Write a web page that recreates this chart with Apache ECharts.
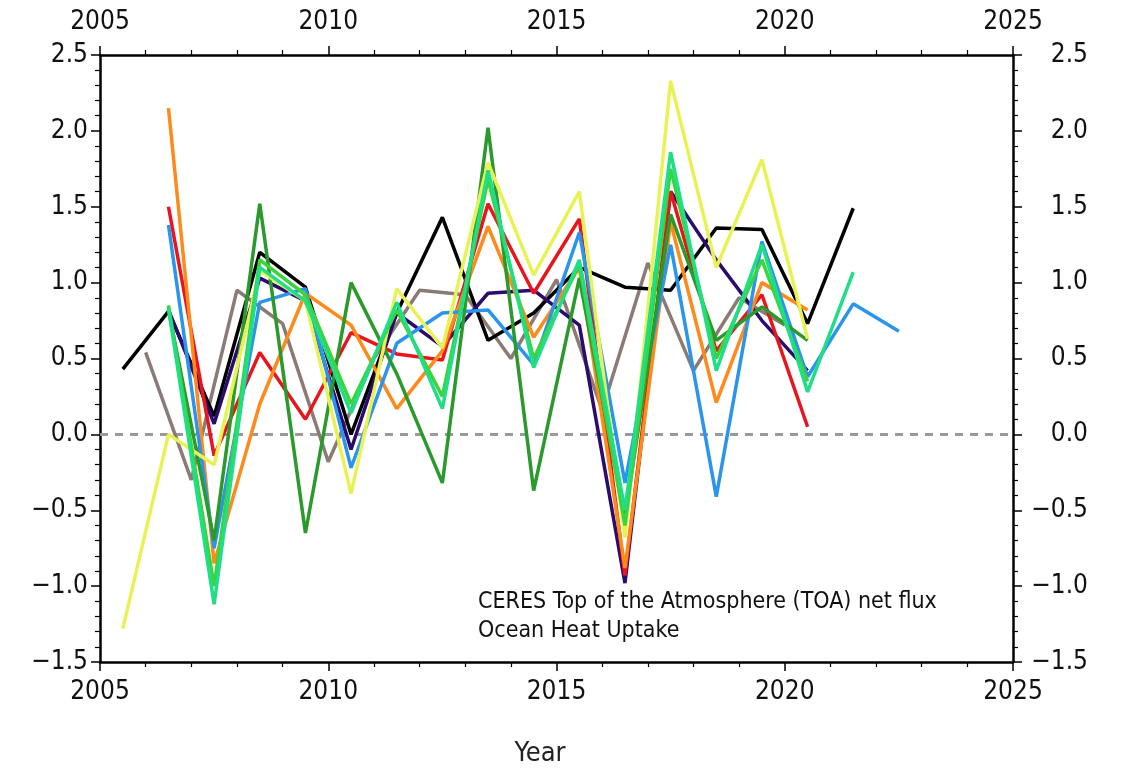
<!DOCTYPE html>
<html><head><meta charset="utf-8">
<script src="https://cdn.jsdelivr.net/npm/echarts@6/dist/echarts.min.js"></script>
<style>html,body{margin:0;padding:0;background:#fff}#c{width:1122px;height:771px}</style>
</head><body><div id="c"></div>
<script>
// Half-year positions used by most series
const years = [2005.5,2006.5,2007.5,2008.5,2009.5,2010.5,2011.5,2012.5,2013.5,2014.5,2015.5,2016.5,2017.5,2018.5,2019.5,2020.5,2021.5,2022.5];
// Integer-year positions of the brown series
const yearsBrown = [2006,2007,2008,2009,2010,2011,2012,2013,2014,2015,2016,2017,2018,2019,2020];

const ceresBlack = [0.43,0.81,0.12,1.20,0.97,0.00,0.80,1.43,0.62,0.80,1.10,0.97,0.95,1.36,1.35,0.73,1.49,null];
const redVals    = [null,1.50,-0.14,0.54,0.10,0.67,0.53,0.49,1.52,0.93,1.42,-0.93,1.60,0.55,0.92,0.05,null,null];
const orangeVals = [null,2.15,-0.85,0.20,0.93,0.72,0.17,0.55,1.37,0.64,1.10,-0.88,1.40,0.21,1.00,0.82,null,null];
const blueVals   = [null,1.38,-0.75,0.87,0.96,-0.22,0.60,0.80,0.82,0.46,1.33,-0.32,1.25,-0.41,1.27,0.38,0.86,0.68];
const dkGreenVals= [null,0.82,-0.70,1.52,-0.65,1.00,0.40,-0.32,2.02,-0.37,1.03,-0.55,1.45,0.62,0.84,0.62,null,null];
const yellowVals = [-1.28,0.00,-0.20,1.08,0.88,-0.39,0.96,0.57,1.79,1.05,1.60,-0.68,2.33,1.10,1.81,0.63,null,null];
const limeVals   = [null,0.85,-1.00,1.15,0.92,0.20,0.82,0.25,1.68,0.50,1.12,-0.60,1.75,0.50,1.15,0.35,null,null];
const springVals = [null,0.83,-1.12,1.10,0.88,0.14,0.87,0.17,1.74,0.44,1.15,-0.50,1.86,0.42,1.25,0.28,1.07,null];
const indigoVals = [null,0.82,0.07,1.03,0.88,-0.10,0.80,0.58,0.93,0.95,0.72,-0.98,1.60,1.15,0.75,0.42,null,null];
const brownVals  = [0.54,-0.30,0.95,0.73,-0.18,0.50,0.95,0.92,0.50,1.02,0.16,1.13,0.42,0.90,0.72];

const xTicks = [2005,2010,2015,2020,2025];
const yTicks = [-1.5,-1.0,-0.5,0.0,0.5,1.0,1.5,2.0,2.5];
const labelTop = 'CERES Top of the Atmosphere (TOA) net flux';
const labelBottom = 'Ocean Heat Uptake';
const xTitle = 'Year';

function pairs(xs, vs){ const out=[]; vs.forEach((v,i)=>{ if(v!==null) out.push([xs[i],v]); }); return out; }

const FONT = "'Liberation Sans Narrow','DejaVu Sans Condensed','Liberation Sans',sans-serif";
const fmtY = v => { const s = Number(v).toFixed(1); return s.replace('-', '\u2212'); };
const fmtX = v => String(Math.round(v));

function line(name, color, xs, vs){
  return {name, type:'line', data: pairs(xs,vs), symbol:'none', lineStyle:{color, width:3.5}, z:3};
}

const chart = echarts.init(document.getElementById('c'), null, {renderer:'canvas'});
const axisCommonX = {
  type:'value', min:xTicks[0], max:xTicks[xTicks.length-1], interval:5,
  axisLine:{show:true, onZero:false, lineStyle:{color:'#000', width:2.5}},
  axisTick:{show:true, inside:false, length:9, lineStyle:{color:'#000', width:1.5}},
  minorTick:{show:true, splitNumber:5, length:5, lineStyle:{color:'#000', width:1.2}},
  splitLine:{show:false},
  axisLabel:{color:'#111', fontSize:26, fontFamily:FONT, formatter:fmtX}
};
const axisCommonY = {
  type:'value', min:yTicks[0], max:yTicks[yTicks.length-1], interval:0.5,
  axisLine:{show:true, onZero:false, lineStyle:{color:'#000', width:2.5}},
  axisTick:{show:true, inside:false, length:9, lineStyle:{color:'#000', width:1.5}},
  minorTick:{show:true, splitNumber:5, length:5, lineStyle:{color:'#000', width:1.2}},
  splitLine:{show:false},
  axisLabel:{color:'#111', fontSize:26, fontFamily:FONT, formatter:fmtY}
};

chart.setOption({
  animation:false,
  backgroundColor:'#fff',
  grid:{left:100, right:109, top:55, bottom:109, containLabel:false},
  xAxis:[
    Object.assign({}, axisCommonX, {position:'bottom', axisLabel:Object.assign({}, axisCommonX.axisLabel, {margin:17})}),
    Object.assign({}, axisCommonX, {position:'top', axisLabel:Object.assign({}, axisCommonX.axisLabel, {margin:20})})
  ],
  yAxis:[
    Object.assign({}, axisCommonY, {position:'left', axisLabel:Object.assign({}, axisCommonY.axisLabel, {margin:12})}),
    Object.assign({}, axisCommonY, {position:'right', axisLabel:Object.assign({}, axisCommonY.axisLabel, {margin:75, align:'right'})})
  ],
  series:[
    {name:'zero', type:'line', data:[[2005,0],[2025,0]], symbol:'none', silent:true,
     lineStyle:{color:'#9a9a9a', width:3, type:[8,7]}, z:2},
    line('brown','#8a7b74',yearsBrown,brownVals),
    line('black','#000000',years,ceresBlack),
    line('indigo','#2c0b6e',years,indigoVals),
    line('red','#e8151d',years,redVals),
    line('orange','#ff8a1c',years,orangeVals),
    line('blue','#2b95ee',years,blueVals),
    line('dkgreen','#2a9a2c',years,dkGreenVals),
    line('yellow','#e9f255',years,yellowVals),
    line('lime','#3bd43c',years,limeVals),
    line('spring','#1fde86',years,springVals)
  ],
  graphic:[
    {type:'text', x:478, y:591, style:{text:labelTop, font:"23px "+FONT, fill:'#111', verticalAlign:'top'}},
    {type:'text', x:478, y:620, style:{text:labelBottom, font:"23px "+FONT, fill:'#111', verticalAlign:'top'}},
    {type:'text', x:540, y:740, style:{text:xTitle, font:"27px "+FONT, fill:'#222', align:'center', verticalAlign:'top'}}
  ]
});
</script></body></html>
